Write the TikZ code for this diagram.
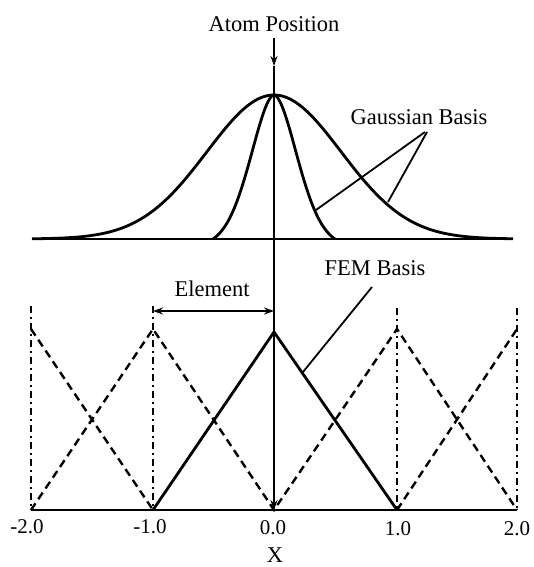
\documentclass[tikz,border=0pt]{standalone}
\usepackage{fontspec}
\setmainfont{Liberation Serif}
\usetikzlibrary{arrows.meta}
\begin{document}
\begin{tikzpicture}[x=1pt,y=-1pt,
  lbl/.style={font=\fontsize{22.5}{26}\selectfont, inner sep=0pt},
  ticklbl/.style={font=\fontsize{21}{25}\selectfont, inner sep=0pt},
  curve/.style={line width=2.8pt, line join=round},
  baseln/.style={line width=1.8pt},
  centerln/.style={line width=1.3pt},
  fem/.style={line width=2.8pt, line join=miter},
  femdash/.style={line width=2.4pt, dash pattern=on 8pt off 5pt},
  dashdot/.style={line width=2pt, dash pattern=on 7pt off 4pt on 2pt off 4pt},
  leader/.style={line width=1.8pt},
  tip/.style={-{Stealth[length=10pt,width=7pt]}},
  dtip/.style={{Stealth[length=10pt,width=7pt]}-{Stealth[length=10pt,width=7pt]}}
]
\useasboundingbox (0,0) rectangle (533,567);

% ---------- coordinates ----------
\coordinate (atop) at (274,38);
\coordinate (atip) at (274,66);
\coordinate (gl) at (32,239);
\coordinate (gr) at (513,239);
\coordinate (xm2) at (31,510);
\coordinate (xm1) at (153,510);
\coordinate (x0) at (274,510);
\coordinate (xp1) at (397,510);
\coordinate (xp2) at (517,510);
\coordinate (pm2) at (31,329);
\coordinate (pm1) at (153,329);
\coordinate (pp1) at (397,329);
\coordinate (pp2) at (517,329);
\coordinate (p0) at (274,332);
\coordinate (vm2) at (31,306);
\coordinate (vm1) at (153,306);
\coordinate (vp1) at (397,308);
\coordinate (vp2) at (517,308);
\coordinate (el) at (153,311);
\coordinate (er) at (274,311);

% ---------- labels ----------
\node[lbl] (atom) at (274,24.5) {Atom Position};
\node[lbl] (gauss) at (419,117) {Gaussian Basis};
\node[lbl] (femlbl) at (375,268) {FEM Basis};
\node[lbl] (elem) at (212,289) {Element};
\node[ticklbl] (tm2) at (27,527) {-2.0};
\node[ticklbl] (tm1) at (150,527) {-1.0};
\node[ticklbl] (t0) at (273,528) {0.0};
\node[ticklbl] (tp1) at (398,529) {1.0};
\node[ticklbl] (tp2) at (517,529) {2.0};
\node[lbl] (xl) at (275,555) {X};

% ---------- Gaussian part ----------
\draw[baseln] (gl) -- (gr);
\draw[curve] plot[domain=32:513, samples=161, smooth]
  (\x, {239-144*exp(-0.5*((\x-274)/67)^2)});
\draw[curve] plot[domain=213:274, samples=60, smooth]
  (\x, {239-144*(exp(-(max(abs(\x-274),0.01)/33.4)^1.8)-0.052)/0.948});
\draw[curve] plot[domain=274:335, samples=60, smooth]
  (\x, {239-144*(exp(-(max(abs(\x-274),0.01)/33.4)^1.8)-0.052)/0.948});

% leaders for Gaussian basis
\coordinate (g1) at (425,132);
\coordinate (g2) at (427,132);
\coordinate (gn) at (316,210);
\coordinate (gw) at (388,202);
\draw[leader] (g1) -- (gn);
\draw[leader] (g2) -- (gw);

% ---------- FEM part ----------
\draw[baseln] (xm2) -- (xp2);
\draw[dashdot] (vm2) -- (xm2);
\draw[dashdot] (vm1) -- (xm1);
\draw[dashdot] (vp1) -- (xp1);
\draw[dashdot] (vp2) -- (xp2);

\draw[femdash] (pm2) -- (xm1);
\draw[femdash] (xm2) -- (pm1) -- (x0) -- (pp1) -- (xp2);
\draw[femdash] (xp1) -- (pp2);

\draw[fem] (xm1) -- (p0) -- (xp1);

% center line with arrows
\draw[centerln, tip] (atop) -- (atip);
\draw[centerln, tip] (atip) -- (x0);

% element arrow
\draw[line width=1.8pt, dtip] (el) -- (er);

% FEM leader
\coordinate (f1) at (372,287);
\coordinate (f2) at (303,372);
\draw[leader] (f1) -- (f2);
\end{tikzpicture}
\end{document}
